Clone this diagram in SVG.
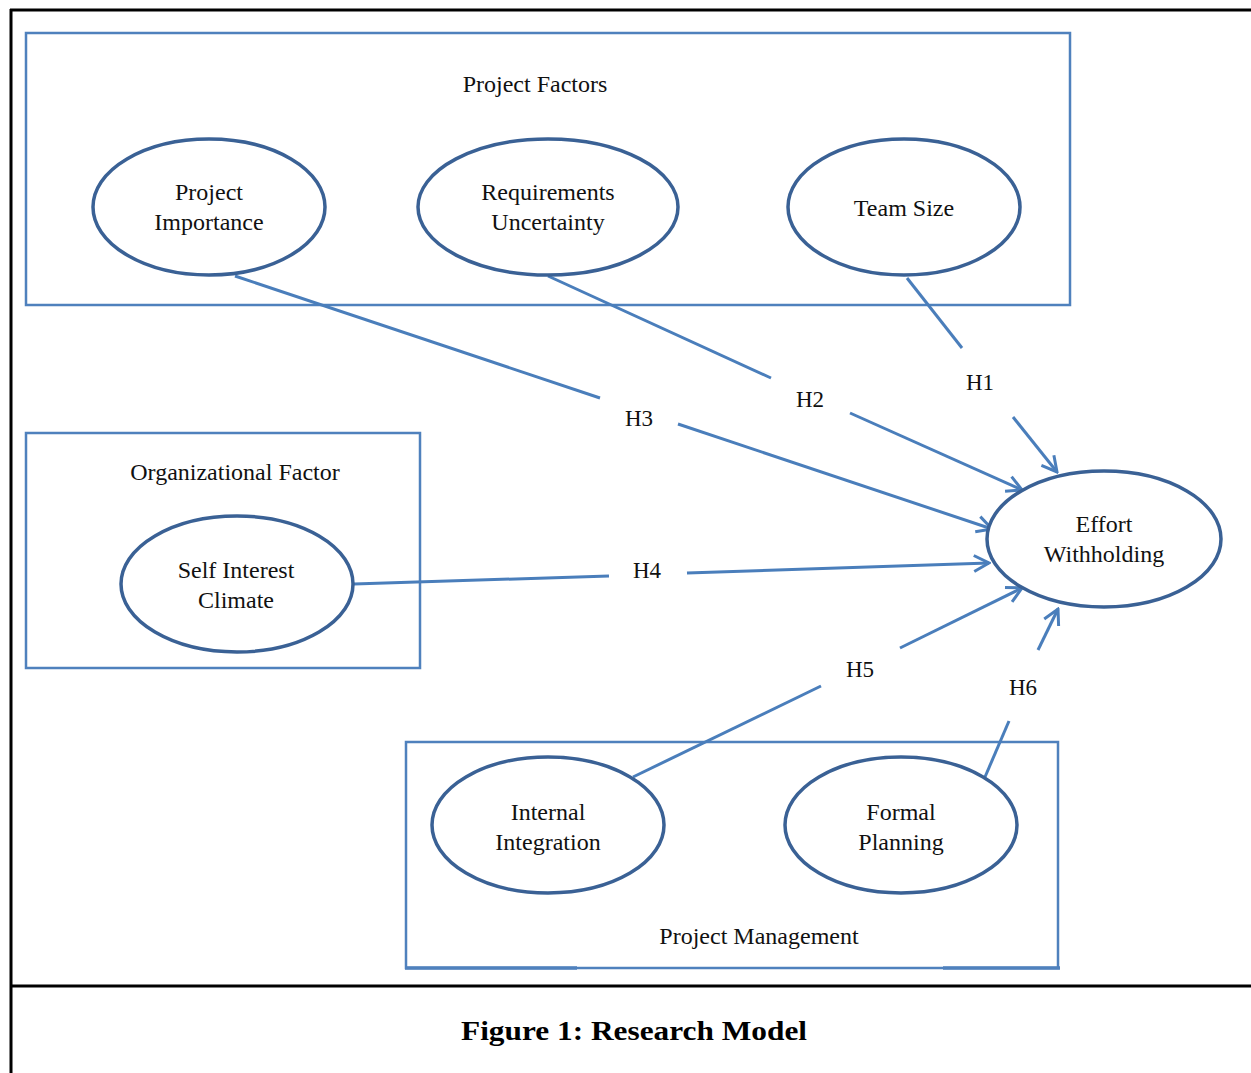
<svg xmlns="http://www.w3.org/2000/svg" width="1251" height="1073" viewBox="0 0 1251 1073">
<style>
.frame{stroke:#000;stroke-width:3;fill:none}
.box{fill:none;stroke:#4f81bd;stroke-width:2.5}
.node{fill:#fff;stroke:#3a6195;stroke-width:3.5}
.lbl{font-family:"Liberation Serif","Times New Roman",serif;font-size:24px;fill:#111;text-anchor:middle}
.h{font-family:"Liberation Serif","Times New Roman",serif;font-size:23px;fill:#111;text-anchor:middle}
.cap{font-family:"Liberation Serif","Times New Roman",serif;font-size:28px;font-weight:bold;fill:#000;text-anchor:middle}
.con{stroke:#4a7ebb;stroke-width:3;fill:none}
</style>
<defs>
<marker id="arr" markerUnits="userSpaceOnUse" markerWidth="22" markerHeight="22" viewBox="0 0 22 22" refX="20" refY="11" orient="auto">
<path d="M5,3 L20,11 L5,19" fill="none" stroke="#4a7ebb" stroke-width="3"/>
</marker>
</defs>
<rect width="1251" height="1073" fill="#fff"/>
<g id="frame">
<line class="frame" x1="10" y1="10" x2="1251" y2="10"/>
<line class="frame" x1="11" y1="9" x2="11" y2="1073"/>
<line class="frame" x1="10" y1="986" x2="1251" y2="986"/>
</g>
<g id="group-project-factors">
<rect class="box" x="26" y="33" width="1044" height="272"/>
<text class="lbl" x="535" y="92">Project Factors</text>
</g>
<g id="group-organizational-factor">
<rect class="box" x="26" y="433" width="394" height="235"/>
<text class="lbl" x="235" y="480">Organizational Factor</text>
</g>
<g id="group-project-management">
<rect class="box" x="406" y="742" width="652" height="226"/>
<line x1="405" y1="968" x2="577" y2="968" stroke="#4f81bd" stroke-width="3.5"/>
<line x1="943" y1="968" x2="1060" y2="968" stroke="#4f81bd" stroke-width="3.5"/>
<text class="lbl" x="759" y="944">Project Management</text>
</g>
<g id="connectors">
<line class="con" x1="235" y1="276" x2="600" y2="398"/>
<line class="con" x1="678" y1="424" x2="992" y2="529" marker-end="url(#arr)"/>
<line class="con" x1="548" y1="276" x2="771" y2="378"/>
<line class="con" x1="850" y1="413" x2="1022" y2="490" marker-end="url(#arr)"/>
<line class="con" x1="907" y1="278" x2="962" y2="348"/>
<line class="con" x1="1013" y1="417" x2="1057" y2="472" marker-end="url(#arr)"/>
<line class="con" x1="354" y1="584" x2="609" y2="576"/>
<line class="con" x1="687" y1="573" x2="989" y2="563" marker-end="url(#arr)"/>
<line class="con" x1="633" y1="777" x2="821" y2="686"/>
<line class="con" x1="900" y1="648" x2="1022" y2="588" marker-end="url(#arr)"/>
<line class="con" x1="985" y1="777" x2="1009" y2="721"/>
<line class="con" x1="1038" y1="650" x2="1058" y2="609" marker-end="url(#arr)"/>
<text class="h" x="980" y="390">H1</text>
<text class="h" x="810" y="407">H2</text>
<text class="h" x="639" y="426">H3</text>
<text class="h" x="647" y="578">H4</text>
<text class="h" x="860" y="677">H5</text>
<text class="h" x="1023" y="695">H6</text>
</g>
<g id="node-project-importance">
<ellipse class="node" cx="209" cy="207" rx="116" ry="68"/>
<text class="lbl" x="209" y="200">Project</text>
<text class="lbl" x="209" y="230">Importance</text>
</g>
<g id="node-requirements-uncertainty">
<ellipse class="node" cx="548" cy="207" rx="130" ry="68"/>
<text class="lbl" x="548" y="200">Requirements</text>
<text class="lbl" x="548" y="230">Uncertainty</text>
</g>
<g id="node-team-size">
<ellipse class="node" cx="904" cy="207" rx="116" ry="68"/>
<text class="lbl" x="904" y="216">Team Size</text>
</g>
<g id="node-self-interest-climate">
<ellipse class="node" cx="237" cy="584" rx="116" ry="68"/>
<text class="lbl" x="236" y="578">Self Interest</text>
<text class="lbl" x="236" y="608">Climate</text>
</g>
<g id="node-effort-withholding">
<ellipse class="node" cx="1104" cy="539" rx="117" ry="68"/>
<text class="lbl" x="1104" y="532">Effort</text>
<text class="lbl" x="1104" y="562">Withholding</text>
</g>
<g id="node-internal-integration">
<ellipse class="node" cx="548" cy="825" rx="116" ry="68"/>
<text class="lbl" x="548" y="820">Internal</text>
<text class="lbl" x="548" y="850">Integration</text>
</g>
<g id="node-formal-planning">
<ellipse class="node" cx="901" cy="825" rx="116" ry="68"/>
<text class="lbl" x="901" y="820">Formal</text>
<text class="lbl" x="901" y="850">Planning</text>
</g>
<g id="caption">
<text class="cap" x="634" y="1040" textLength="346" lengthAdjust="spacingAndGlyphs">Figure 1: Research Model</text>
</g>
</svg>
